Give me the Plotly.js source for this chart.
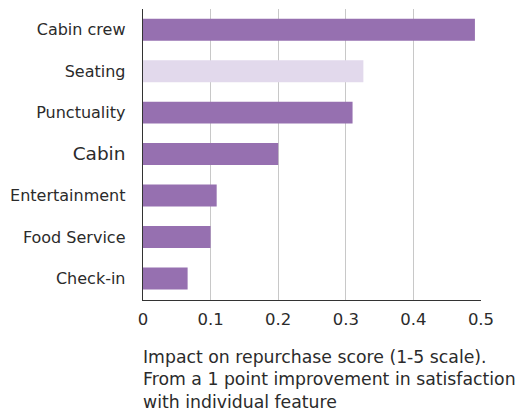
<!DOCTYPE html>
<html><head><meta charset="utf-8">
<script src="https://cdn.plot.ly/plotly-3.0.1.min.js"></script>
<style>html,body{margin:0;padding:0;background:#fff}#chart{width:519px;height:413px}</style>
</head><body><div id="chart"></div>
<script>
const categories = ["Cabin crew","Seating","Punctuality","Cabin","Entertainment","Food Service","Check-in"];
const values = [0.491, 0.326, 0.310, 0.200, 0.109, 0.100, 0.066];
const barColors = ["#9670b0","#e2d9ec","#9670b0","#9670b0","#9670b0","#9670b0","#9670b0"];
const tickLabels = ["Cabin crew","Seating","Punctuality","<span style='font-size:18.5px'>Cabin</span>","Entertainment","Food Service","Check-in"];
const xTicks = [0,0.1,0.2,0.3,0.4,0.5];
const xTickText = ["0","0.1","0.2","0.3","0.4","0.5"];
const noteLines = ["Impact on repurchase score (1-5 scale).","From a 1 point improvement in satisfaction","with individual feature"];

const font = "DejaVu Sans, sans-serif";
Plotly.newPlot("chart", [{
  type: "bar", orientation: "h",
  y: categories, x: values,
  marker: {color: barColors},
  width: 0.53, hoverinfo: "none"
}], {
  width: 519, height: 413,
  margin: {l: 143, r: 38, t: 9, b: 113},
  paper_bgcolor: "#fff", plot_bgcolor: "#fff",
  font: {family: font, color: "#2b2b2b", size: 16},
  showlegend: false,
  xaxis: {
    range: [0, 0.5], tickvals: xTicks, ticktext: xTickText,
    showgrid: true, gridcolor: "#c8c8c8", gridwidth: 1.3,
    zeroline: false, showline: true, linecolor: "#333", linewidth: 1.3,
    ticks: "", ticklen: 0, ticklabelstandoff: 4,
    tickfont: {size: 16.5, color: "#2b2b2b"}
  },
  yaxis: {
    type: "category", autorange: false, range: [6.52, -0.5],
    tickvals: categories, ticktext: tickLabels,
    showgrid: false, zeroline: false, showline: true, linecolor: "#333", linewidth: 1.3,
    ticks: "", ticklabelstandoff: 13,
    tickfont: {size: 16, color: "#2b2b2b"}
  },
  annotations: [{
    xref: "paper", yref: "paper", x: 0, y: -0.154, xanchor: "left", yanchor: "top",
    align: "left", showarrow: false, xshift: -2,
    text: noteLines.join("<br>"),
    font: {size: 17.3, color: "#2b2b2b", family: font}
  }]
}, {displayModeBar: false, staticPlot: true});
</script></body></html>
